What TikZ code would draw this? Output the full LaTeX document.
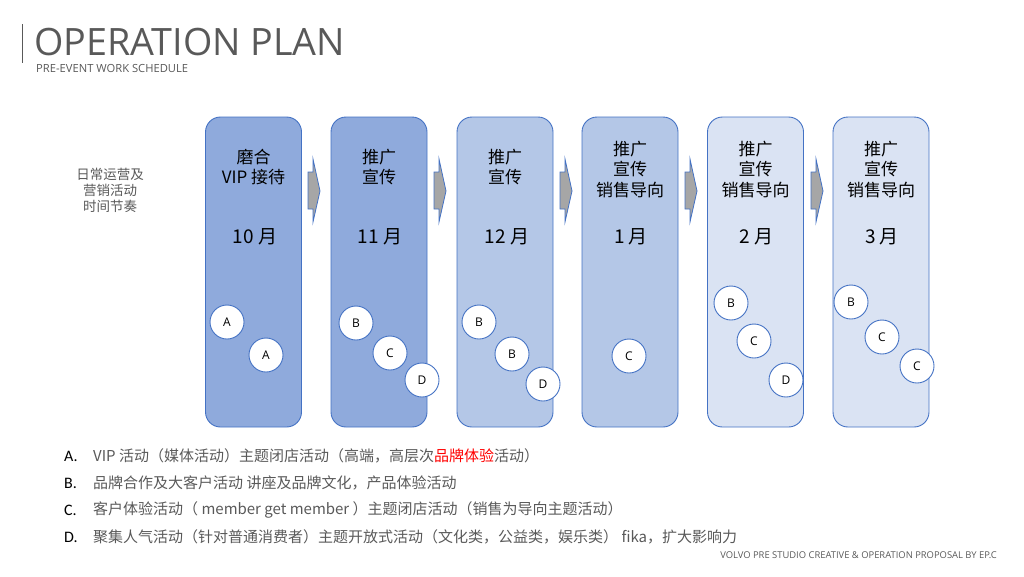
\documentclass[tikz,border=0pt]{standalone}
\usepackage{fontspec}
\setmainfont{Open Sans}
\newfontfamily\cjk{Noto Sans CJK SC}
\newfontfamily\calfont{Carlito}
\usetikzlibrary{calc}
\definecolor{bA}{HTML}{8FAADC}
\definecolor{bB}{HTML}{B4C7E7}
\definecolor{bC}{HTML}{DAE3F3}
\definecolor{edge}{HTML}{4472C4}
\definecolor{txtgray}{HTML}{595959}
\definecolor{arrgray}{HTML}{A6A6A6}
\tikzset{
  monthbox/.style={draw=edge, line width=0.9pt, rounded corners=15pt, minimum width=96pt, minimum height=310pt, inner sep=0pt},
  circ/.style={circle, draw=edge, line width=0.9pt, fill=white, minimum size=34pt, inner sep=0pt, font=\fontsize{12}{14}\selectfont},
  head/.style={align=center, inner sep=0pt, font=\cjk\fontsize{17}{20.3}\selectfont},
  mon/.style={inner sep=0pt, font=\cjk\fontsize{19}{22}\selectfont},
  chev/.style={draw=edge, line width=0.8pt, fill=arrgray},
  leg/.style={anchor=west, inner sep=0pt, text=txtgray, font=\cjk\fontsize{15}{17}\selectfont},
  legl/.style={anchor=west, inner sep=0pt, text=black, font=\calfont\fontsize{16}{18}\selectfont},
}
\begin{document}
\begin{tikzpicture}[x=1pt,y=-1pt]
\useasboundingbox (0,0) rectangle (1024,576);
% title
\draw[txtgray, line width=0.8pt] (22,24) -- (22,63);
\node[anchor=west, inner sep=0pt, text=txtgray, font=\fontsize{37.7}{42}\selectfont] (title) at (34,42) {OPERATION PLAN};
\node[anchor=west, inner sep=0pt, text=txtgray, font=\fontsize{11.2}{13}\selectfont] (sub) at (36,68.5) {PRE-EVENT WORK SCHEDULE};
% left label
\node[align=center, inner sep=0pt, text=txtgray, font=\cjk\fontsize{13.5}{16}\selectfont] (lab) at (110,190) {日常运营及\\营销活动\\时间节奏};
% boxes
\node[monthbox, fill=bA] (m1) at (253.5,272) {};
\node[monthbox, fill=bA] (m2) at (379,272) {};
\node[monthbox, fill=bB] (m3) at (505,272) {};
\node[monthbox, fill=bB] (m4) at (630,272) {};
\node[monthbox, fill=bC] (m5) at (755.5,272) {};
\node[monthbox, fill=bC] (m6) at (881,272) {};
% arrows
\foreach \x in {301,427,553,678,804}{
  \draw[chev, shift={(\x,0)}] (7,172) -- (12,172) -- (12,159) -- (19,191) -- (12,222) -- (12,209) -- (7,209) -- cycle;
}
% headings
\node[head] (h1) at (253.5,167) {磨合\\VIP 接待};
\node[head] (h2) at (379,167) {推广\\宣传};
\node[head] (h3) at (505,167) {推广\\宣传};
\node[head] (h4) at (630,169.5) {推广\\宣传\\销售导向};
\node[head] (h5) at (755.5,169.5) {推广\\宣传\\销售导向};
\node[head] (h6) at (881,169.5) {推广\\宣传\\销售导向};
% months
\node[mon] (n1) at (255,237) {10 月};
\node[mon] (n2) at (380,237) {11 月};
\node[mon] (n3) at (507,237) {12 月};
\node[mon] (n4) at (631,237) {1 月};
\node[mon] (n5) at (756.5,237) {2 月};
\node[mon] (n6) at (882,237) {3 月};
% circles
\node[circ] (c11) at (227,322) {A};
\node[circ] (c12) at (266,355) {A};
\node[circ] (c21) at (356,323) {B};
\node[circ] (c22) at (390,353) {C};
\node[circ] (c23) at (422,380) {D};
\node[circ] (c31) at (479,322) {B};
\node[circ] (c32) at (512,354) {B};
\node[circ] (c33) at (543,384) {D};
\node[circ] (c41) at (629,356) {C};
\node[circ] (c51) at (731,303) {B};
\node[circ] (c52) at (754,341) {C};
\node[circ] (c53) at (786,380) {D};
\node[circ] (c61) at (851,302) {B};
\node[circ] (c62) at (882,337) {C};
\node[circ] (c63) at (917,366) {C};
% legend
\node[legl] (la) at (64,456) {A.};
\node[legl] (lb) at (64,483) {B.};
\node[legl] (lc) at (64,510) {C.};
\node[legl] (ld) at (64,537) {D.};
\node[leg] (ta) at (93,456) {VIP 活动（媒体活动）主题闭店活动（高端，高层次\textcolor{red}{品牌体验}活动）};
\node[leg] (tb) at (93,483) {品牌合作及大客户活动 讲座及品牌文化，产品体验活动};
\node[leg] (tc) at (93,510) {客户体验活动（ member get member ）主题闭店活动（销售为导向主题活动）};
\node[leg] (td) at (93,537) {聚集人气活动（针对普通消费者）主题开放式活动（文化类，公益类，娱乐类） fika，扩大影响力};
% footer
\node[anchor=east, inner sep=0pt, text=txtgray, font=\fontsize{9.4}{11}\selectfont] (foot) at (997,555) {VOLVO PRE STUDIO CREATIVE \& OPERATION PROPOSAL BY EP.C};
\end{tikzpicture}
\end{document}
